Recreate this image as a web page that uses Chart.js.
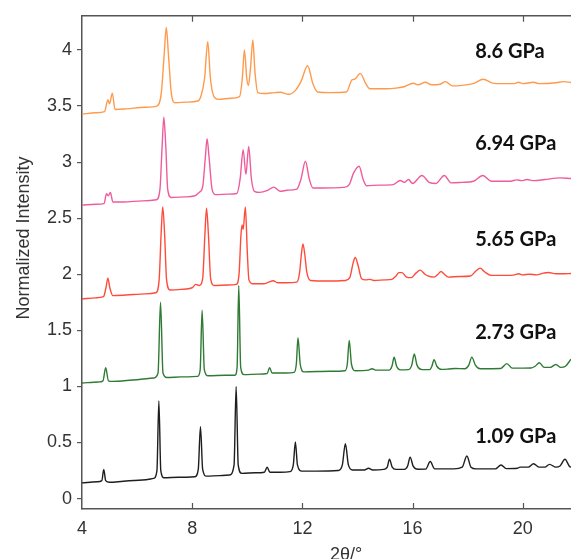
<!DOCTYPE html>
<html>
<head>
<meta charset="utf-8">
<script src="https://cdn.jsdelivr.net/npm/chart.js@4.4.1/dist/chart.umd.min.js"></script>
<style>
  html, body { margin: 0; padding: 0; background: #fff; }
  #wrap { width: 571px; height: 559px; }
</style>
</head>
<body>
<div id="wrap"><canvas id="xrd"></canvas></div>
<script>
'use strict';

// tick values
const xTicks = [4, 8, 12, 16, 20];
const yTicks = [0, 0.5, 1, 1.5, 2, 2.5, 3, 3.5, 4];

// pressure labels, bottom to top
const pressures = ['1.09 GPa', '2.73 GPa', '5.65 GPa', '6.94 GPa', '8.6 GPa'];

// 1.09 GPa
const x109 = [4.0, 4.55, 4.72, 4.79, 4.86, 5.0, 5.5, 6.2, 6.6, 6.72, 6.79, 6.86, 6.98, 7.5, 8.1, 8.22, 8.30, 8.38, 8.52, 9.0, 9.35, 9.52, 9.595, 9.67, 9.8, 10.3, 10.62, 10.72, 10.82, 11.2, 11.55, 11.67, 11.745, 11.82, 11.98, 12.5, 13.3, 13.45, 13.56, 13.67, 13.82, 14.25, 14.40, 14.55, 14.95, 15.08, 15.16, 15.26, 15.4, 15.7, 15.82, 15.91, 16.02, 16.2, 16.48, 16.64, 16.8, 17.2, 17.5, 17.8, 17.97, 18.12, 18.3, 19.0, 19.21, 19.4, 19.8, 19.9, 20.2, 20.39, 20.6, 20.8, 20.97, 21.2, 21.35, 21.53, 21.7, 21.75];
const y109 = [0.140, 0.150, 0.16, 0.26, 0.16, 0.145, 0.155, 0.165, 0.18, 0.25, 0.87, 0.25, 0.185, 0.19, 0.195, 0.26, 0.64, 0.26, 0.20, 0.205, 0.21, 0.30, 1.00, 0.30, 0.225, 0.23, 0.235, 0.28, 0.235, 0.235, 0.24, 0.30, 0.505, 0.30, 0.245, 0.245, 0.25, 0.30, 0.49, 0.30, 0.255, 0.255, 0.27, 0.255, 0.26, 0.28, 0.35, 0.28, 0.26, 0.26, 0.29, 0.37, 0.29, 0.262, 0.263, 0.33, 0.265, 0.265, 0.265, 0.28, 0.38, 0.28, 0.265, 0.265, 0.30, 0.267, 0.27, 0.28, 0.28, 0.31, 0.28, 0.28, 0.305, 0.28, 0.29, 0.35, 0.285, 0.28];

// 2.73 GPa
const x273 = [4.0, 4.6, 4.76, 4.86, 4.96, 5.1, 6.0, 6.6, 6.76, 6.85, 6.94, 7.08, 7.6, 8.2, 8.29, 8.36, 8.44, 8.58, 9.2, 9.55, 9.63, 9.69, 9.76, 9.88, 10.4, 10.72, 10.81, 10.9, 11.4, 11.7, 11.78, 11.84, 11.92, 12.05, 13.0, 13.55, 13.63, 13.70, 13.78, 13.92, 14.4, 14.53, 14.66, 15.15, 15.25, 15.33, 15.42, 15.55, 15.85, 15.97, 16.06, 16.16, 16.35, 16.62, 16.70, 16.78, 16.88, 17.05, 17.3, 17.55, 17.9, 18.04, 18.15, 18.28, 18.45, 19.2, 19.42, 19.62, 20.3, 20.45, 20.60, 20.78, 21.0, 21.2, 21.38, 21.55, 21.75];
const y273 = [1.03, 1.04, 1.05, 1.167, 1.05, 1.045, 1.06, 1.075, 1.12, 1.75, 1.12, 1.08, 1.085, 1.09, 1.15, 1.68, 1.15, 1.095, 1.10, 1.10, 1.17, 1.90, 1.17, 1.105, 1.11, 1.115, 1.167, 1.12, 1.12, 1.125, 1.2, 1.435, 1.2, 1.13, 1.135, 1.14, 1.2, 1.41, 1.2, 1.14, 1.145, 1.158, 1.145, 1.145, 1.18, 1.26, 1.18, 1.148, 1.15, 1.19, 1.29, 1.19, 1.15, 1.15, 1.18, 1.238, 1.18, 1.152, 1.155, 1.16, 1.158, 1.19, 1.261, 1.19, 1.158, 1.16, 1.203, 1.163, 1.165, 1.18, 1.211, 1.17, 1.17, 1.196, 1.17, 1.18, 1.243];

// 5.65 GPa
const x565 = [4.0, 4.5, 4.78, 4.87, 4.94, 5.01, 5.12, 5.6, 6.3, 6.68, 6.80, 6.87, 6.93, 7.0, 7.07, 7.2, 7.6, 8.0, 8.13, 8.25, 8.38, 8.46, 8.52, 8.59, 8.67, 8.8, 9.3, 9.6, 9.7, 9.77, 9.81, 9.85, 9.93, 10.0, 10.06, 10.2, 10.6, 10.78, 10.94, 11.1, 11.4, 11.8, 11.9, 11.96, 12.02, 12.09, 12.16, 12.3, 12.9, 13.55, 13.72, 13.84, 13.92, 14.02, 14.15, 14.3, 14.45, 14.6, 15.0, 15.25, 15.4, 15.5, 15.62, 15.78, 15.95, 16.12, 16.28, 16.45, 16.55, 16.78, 16.92, 17.03, 17.15, 17.3, 17.7, 18.1, 18.3, 18.45, 18.62, 18.85, 19.4, 19.7, 19.85, 20.0, 20.25, 20.5, 20.75, 20.93, 21.2, 21.5, 21.75];
const y565 = [1.78, 1.79, 1.80, 1.88, 1.966, 1.88, 1.81, 1.815, 1.825, 1.835, 1.95, 2.35, 2.60, 2.35, 1.95, 1.86, 1.865, 1.88, 1.91, 1.90, 1.96, 2.35, 2.59, 2.35, 1.96, 1.90, 1.905, 1.91, 2.0, 2.35, 2.44, 2.40, 2.60, 2.2, 1.95, 1.915, 1.915, 1.93, 1.942, 1.925, 1.925, 1.93, 2.02, 2.17, 2.27, 2.17, 2.02, 1.945, 1.94, 1.945, 1.97, 2.10, 2.15, 2.08, 1.96, 1.95, 1.955, 1.945, 1.95, 1.955, 1.985, 2.015, 2.015, 1.975, 1.97, 2.01, 2.037, 2.0, 1.985, 1.975, 2.0, 2.025, 2.0, 1.975, 1.98, 1.985, 2.03, 2.055, 2.02, 1.99, 1.99, 1.995, 2.005, 1.995, 2.0, 1.995, 2.01, 2.016, 2.005, 2.005, 2.007];

// 6.94 GPa
const x694 = [4.0, 4.5, 4.8, 4.89, 4.96, 5.03, 5.12, 5.5, 6.2, 6.7, 6.83, 6.91, 6.97, 7.04, 7.11, 7.24, 7.7, 8.1, 8.25, 8.38, 8.48, 8.54, 8.61, 8.72, 8.85, 9.3, 9.62, 9.74, 9.85, 9.95, 10.05, 10.15, 10.26, 10.45, 10.75, 10.96, 11.2, 11.45, 11.8, 11.95, 12.11, 12.25, 12.38, 12.7, 13.5, 13.7, 13.86, 14.06, 14.2, 14.33, 14.8, 15.3, 15.55, 15.7, 15.85, 16.0, 16.34, 16.6, 16.85, 17.15, 17.4, 17.8, 18.21, 18.55, 18.85, 19.55, 19.78, 19.95, 20.15, 20.4, 20.8, 21.35, 21.75];
const y694 = [2.617, 2.625, 2.63, 2.718, 2.70, 2.73, 2.645, 2.645, 2.655, 2.665, 2.76, 3.15, 3.40, 3.15, 2.76, 2.685, 2.69, 2.70, 2.73, 2.78, 3.05, 3.21, 3.05, 2.76, 2.71, 2.715, 2.72, 2.85, 3.112, 2.89, 3.14, 2.85, 2.74, 2.73, 2.75, 2.777, 2.74, 2.75, 2.76, 2.85, 3.008, 2.85, 2.77, 2.77, 2.775, 2.80, 2.904, 2.964, 2.85, 2.79, 2.795, 2.8, 2.836, 2.82, 2.845, 2.81, 2.881, 2.82, 2.81, 2.881, 2.815, 2.82, 2.83, 2.881, 2.83, 2.83, 2.842, 2.835, 2.845, 2.835, 2.845, 2.86, 2.854];

// 8.6 GPa
const x860 = [4.0, 4.5, 4.82, 4.94, 5.0, 5.10, 5.2, 5.6, 6.3, 6.72, 6.88, 6.98, 7.06, 7.14, 7.24, 7.38, 7.8, 8.2, 8.32, 8.45, 8.565, 8.66, 8.78, 8.95, 9.4, 9.72, 9.82, 9.895, 9.98, 10.04, 10.12, 10.20, 10.28, 10.38, 10.6, 11.0, 11.2, 11.5, 11.75, 11.95, 12.19, 12.38, 12.55, 13.0, 13.6, 13.80, 13.9, 14.10, 14.3, 14.45, 15.0, 15.4, 15.65, 16.03, 16.2, 16.46, 16.7, 17.0, 17.19, 17.45, 17.8, 18.2, 18.57, 18.9, 19.3, 19.7, 19.84, 20.0, 20.39, 20.6, 21.2, 21.47, 21.75];
const y860 = [3.428, 3.44, 3.45, 3.556, 3.52, 3.615, 3.47, 3.475, 3.49, 3.50, 3.62, 3.95, 4.20, 3.95, 3.62, 3.53, 3.535, 3.545, 3.59, 3.75, 4.075, 3.75, 3.59, 3.56, 3.57, 3.585, 3.75, 4.0, 3.75, 3.683, 3.85, 4.09, 3.8, 3.62, 3.612, 3.62, 3.623, 3.605, 3.64, 3.72, 3.86, 3.70, 3.625, 3.62, 3.625, 3.734, 3.74, 3.792, 3.70, 3.655, 3.655, 3.66, 3.67, 3.703, 3.69, 3.712, 3.69, 3.695, 3.718, 3.68, 3.685, 3.7, 3.739, 3.705, 3.70, 3.70, 3.712, 3.70, 3.712, 3.70, 3.708, 3.718, 3.71];

const axisColor = '#555555';
const textColor = '#333333';

function toPoints(xs, ys) {
  return xs.map(function (x, i) { return { x: x, y: ys[i] }; });
}

function series(label, xs, ys, color) {
  return {
    label: label,
    data: toPoints(xs, ys),
    borderColor: color,
    borderWidth: 1.4,
    pointRadius: 0,
    fill: false,
    cubicInterpolationMode: 'monotone'
  };
}

// frame on top, inward x ticks, pressure labels and axis titles
const decorations = {
  id: 'decorations',
  afterDraw: function (chart) {
    const ctx = chart.ctx;
    const area = chart.chartArea;
    const sx = chart.scales.x;
    const sy = chart.scales.y;
    ctx.save();
    ctx.strokeStyle = axisColor;
    ctx.lineWidth = 1.5;
    ctx.beginPath();
    ctx.moveTo(area.left, area.top);
    ctx.lineTo(area.right, area.top);
    ctx.stroke();

    ctx.lineWidth = 1.2;
    ctx.beginPath();
    xTicks.forEach(function (v) {
      if (v === xTicks[0]) return;
      const p = Math.round(sx.getPixelForValue(v)) + 0.5;
      ctx.moveTo(p, area.top);
      ctx.lineTo(p, area.top + 6);
      ctx.moveTo(p, area.bottom);
      ctx.lineTo(p, area.bottom - 6);
    });
    ctx.stroke();

    // pressure labels next to each pattern
    const labelY = [0.551, 1.483, 2.313, 3.17, 3.985];
    ctx.fillStyle = '#111111';
    ctx.font = 'bold 20px Lato';
    ctx.textAlign = 'left';
    ctx.textBaseline = 'middle';
    pressures.forEach(function (t, i) {
      ctx.fillText(t, sx.getPixelForValue(18.27), sy.getPixelForValue(labelY[i]));
    });

    // axis titles
    ctx.fillStyle = textColor;
    ctx.font = '18px "Liberation Sans"';
    ctx.textAlign = 'center';
    ctx.fillText('2θ/°', 346, 555);
    ctx.translate(24, 238);
    ctx.rotate(-Math.PI / 2);
    ctx.fillText('Normalized Intensity', 0, 0);
    ctx.restore();
  }
};

new Chart(document.getElementById('xrd'), {
  type: 'line',
  data: {
    datasets: [
      series(pressures[0], x109, y109, '#1e1e1e'),
      series(pressures[1], x273, y273, '#2f7a34'),
      series(pressures[2], x565, y565, '#ff4b3c'),
      series(pressures[3], x694, y694, '#ee5c9c'),
      series(pressures[4], x860, y860, '#ff9a4c')
    ]
  },
  options: {
    responsive: true,
    maintainAspectRatio: false,
    animation: false,
    devicePixelRatio: 1,
    layout: { padding: { top: 14, left: 0, right: 0, bottom: 0 } },
    plugins: {
      legend: { display: false },
      tooltip: { enabled: false }
    },
    scales: {
      x: {
        type: 'linear',
        min: 4,
        max: 21.75,
        afterBuildTicks: function (scale) {
          scale.ticks = xTicks.map(function (v) { return { value: v }; });
        },
        afterFit: function (scale) { scale.height = 50; },
        grid: { display: false, drawTicks: false },
        border: { display: true, color: axisColor, width: 1.5 },
        ticks: {
          padding: 9,
          maxRotation: 0,
          color: textColor,
          font: { family: 'Liberation Sans', size: 18 },
          callback: function (v) { return String(v); }
        }
      },
      y: {
        type: 'linear',
        min: -0.093,
        max: 4.305,
        afterBuildTicks: function (scale) {
          scale.ticks = yTicks.map(function (v) { return { value: v }; });
        },
        afterFit: function (scale) { scale.width = 82; },
        grid: { drawOnChartArea: false, drawTicks: true, tickLength: 5, color: axisColor, lineWidth: 1.2 },
        border: { display: true, color: axisColor, width: 1.5 },
        ticks: {
          padding: 5,
          color: textColor,
          font: { family: 'Liberation Sans', size: 18 },
          callback: function (v) { return String(v); }
        }
      }
    }
  },
  plugins: [decorations]
});
</script>
</body>
</html>
